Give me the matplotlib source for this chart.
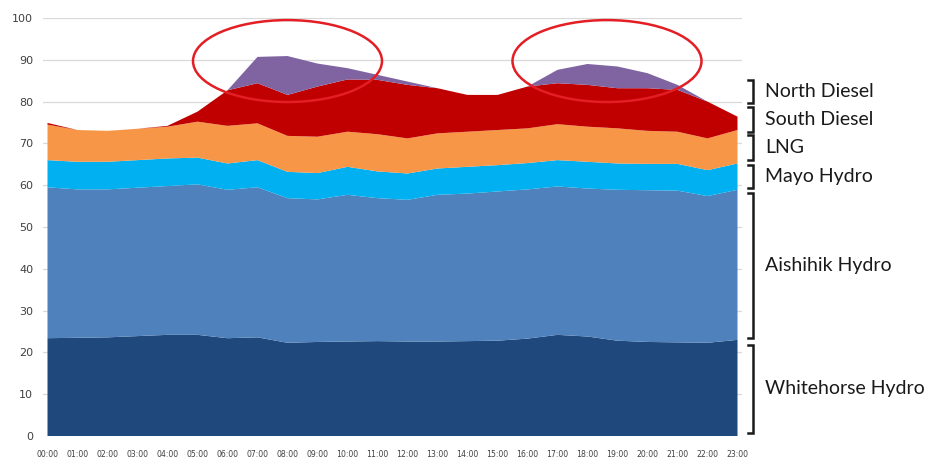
import matplotlib
matplotlib.use("Agg")
import matplotlib.pyplot as plt
from matplotlib.patches import Ellipse
import matplotlib.transforms as mtransforms

hours = [f"{h:02d}:00" for h in range(24)]

whitehorse = [23.4, 23.5, 23.6, 23.9, 24.2, 24.2, 23.4, 23.6, 22.3, 22.5, 22.6, 22.7,
              22.6, 22.6, 22.7, 22.8, 23.3, 24.2, 23.8, 22.8, 22.5, 22.4, 22.3, 23.0]
aishihik = [36.1, 35.5, 35.4, 35.5, 35.6, 36.0, 35.5, 35.9, 34.6, 34.1, 35.1, 34.2,
            33.9, 35.1, 35.3, 35.7, 35.7, 35.5, 35.4, 36.1, 36.3, 36.3, 35.1, 35.9]
mayo = [6.5, 6.6, 6.6, 6.6, 6.6, 6.4, 6.3, 6.5, 6.3, 6.3, 6.7, 6.4,
        6.3, 6.3, 6.4, 6.3, 6.3, 6.3, 6.4, 6.3, 6.3, 6.4, 6.2, 6.3]
lng = [8.5, 7.6, 7.4, 7.5, 7.6, 8.6, 9.0, 8.8, 8.6, 8.7, 8.4, 8.9,
       8.4, 8.4, 8.4, 8.4, 8.3, 8.6, 8.4, 8.4, 7.9, 7.7, 7.6, 8.0]
south_diesel = [0.4, 0.0, 0.0, 0.0, 0.2, 2.4, 8.5, 9.6, 9.8, 12.0, 12.5, 13.0,
                12.8, 10.8, 8.8, 8.4, 10.0, 9.8, 10.0, 9.6, 10.2, 10.0, 8.8, 3.2]
north_diesel = [0, 0, 0, 0, 0, 0, 0, 6.3, 9.3, 5.5, 2.7, 1.2,
                0.8, 0, 0, 0, 0, 3.2, 5.0, 5.2, 3.6, 1.2, 0, 0]

series_names = ["Whitehorse Hydro", "Aishihik Hydro", "Mayo Hydro", "LNG",
                "South Diesel", "North Diesel"]
colors = ["#1f497d", "#4f81bd", "#00b0f0", "#f79646", "#c00000", "#8064a2"]

# bracket ranges (value units) for the right-hand labels
brackets = {
    "North Diesel": (79.7, 85.2),
    "South Diesel": (72.7, 78.7),
    "LNG": (66.0, 72.0),
    "Mayo Hydro": (59.3, 64.8),
    "Aishihik Hydro": (23.4, 58.1),
    "Whitehorse Hydro": (0.7, 21.8),
}

W, H = 948, 458
fig = plt.figure(figsize=(W / 100, H / 100), dpi=100)
ax = fig.add_axes([43 / W, (H - 436) / H, (742 - 43) / W, (436 - 18) / H])

x = list(range(24))
ax.stackplot(x, whitehorse, aishihik, mayo, lng, south_diesel, north_diesel,
             colors=colors, linewidth=0, zorder=2, antialiased=True)

ax.set_xlim(-0.15, 23.15)
ax.set_ylim(0, 100)
ax.set_yticks(range(0, 101, 10))
ax.set_xticks(x)
ax.set_xticklabels(hours, fontsize=5.6, color="#404040")
ax.tick_params(axis="x", length=0, pad=10)
ax.tick_params(axis="y", length=0, pad=7, labelsize=8, labelcolor="#404040")
ax.grid(axis="y", color="#d9d9d9", linewidth=0.9, zorder=0)
ax.set_axisbelow(True)
for s in ax.spines.values():
    s.set_visible(False)

# red ellipses highlighting diesel peaks
for cx in (8.0, 18.65):
    e = Ellipse((cx, 89.7), width=6.3, height=19.6, fill=False,
                edgecolor="#e31e24", linewidth=1.8, zorder=5, clip_on=False)
    ax.add_patch(e)

# right side brackets and labels
trans = mtransforms.blended_transform_factory(fig.transFigure, ax.transData)
xb = 753 / W
xt = 748 / W
for name, (y0, y1) in brackets.items():
    ax.plot([xt, xb, xb, xt], [y1, y1, y0, y0], color="#1a1a1a", linewidth=1.8,
            transform=trans, clip_on=False, solid_joinstyle="miter")
    ax.text(765 / W, (y0 + y1) / 2, name, transform=trans, fontsize=14,
            family="Lato", color="#1a1a1a", va="center", ha="left")

fig.savefig("out.png", dpi=100)
